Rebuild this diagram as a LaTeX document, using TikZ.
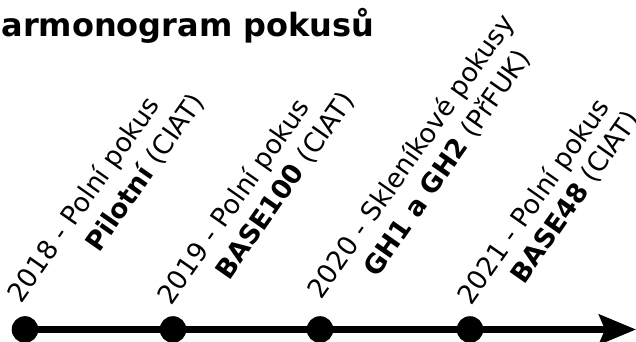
\documentclass[tikz,border=0pt]{standalone}
\usepackage{fontspec}
\setmainfont{DejaVu Sans}
\usetikzlibrary{arrows.meta}

\tikzset{
  title/.style={anchor=base west, inner sep=0pt, font=\fontsize{32}{36}\selectfont\bfseries},
  lbl/.style={anchor=base west, inner sep=0pt, rotate=55, font=\fontsize{26.5}{30}\selectfont},
  milestone/.style={circle, fill=black, inner sep=0pt, minimum size=26.6pt},
  axis/.style={line width=6.5pt, -{Stealth[length=37pt, width=30pt, inset=6pt]}},
}

\begin{document}
\begin{tikzpicture}[x=1pt, y=1pt]
  \useasboundingbox (0,0) rectangle (636,342);

  % heading (partly beyond the left edge)
  \node[title] (head) at (-25.5,305) {Harmonogram pokusů};

  % timeline with milestones
  \node[milestone] (d1) at (25,12.5) {};
  \node[milestone] (d2) at (173,12.5) {};
  \node[milestone] (d3) at (320,12.5) {};
  \node[milestone] (d4) at (470,12.5) {};
  \coordinate (tip) at (636,12.5);
  \draw[axis] (d1.center) -- (tip);

  % labels, two lines each
  \node[lbl] (a1) at (21,37.5) {2018 - Polní pokus};
  \node[lbl] (b1) at (99,88.5) {\textbf{Pilotní} (CIAT)};

  \node[lbl] (a2) at (171,35.5) {2019 - Polní pokus};
  \node[lbl] (b2) at (229,60.5) {\textbf{BASE100} (CIAT)};

  \node[lbl] (a3) at (321,41.5) {2020 - Skleníkové pokusy};
  \node[lbl] (b3) at (377,63.5) {\textbf{GH1 a GH2} (PřFUK)};

  \node[lbl] (a4) at (471,35.5) {2021 - Polní pokus};
  \node[lbl] (b4) at (524,56.5) {\textbf{BASE48} (CIAT)};
\end{tikzpicture}
\end{document}
